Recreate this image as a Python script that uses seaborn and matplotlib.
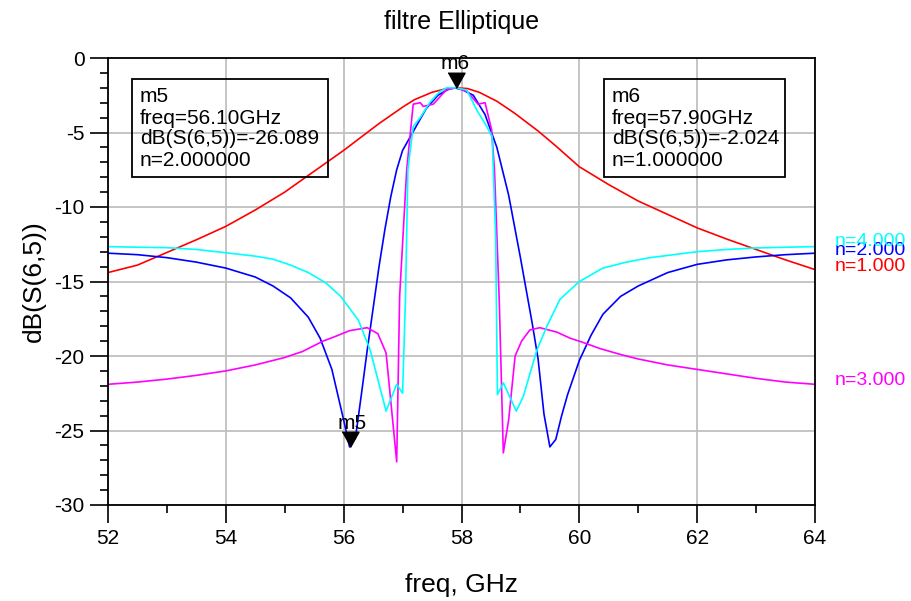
import numpy as np
import pandas as pd
import seaborn as sns
import matplotlib
matplotlib.use("Agg")
import matplotlib.pyplot as plt
from matplotlib.ticker import MultipleLocator
from matplotlib.patches import Rectangle

sns.set_theme(style="white")
plt.rcParams["font.family"] = ["Liberation Sans", "DejaVu Sans"]
plt.rcParams["axes.unicode_minus"] = False

# n=1 (red)
freq_n1 = [52, 52.5, 53, 53.5, 54, 54.5, 55, 55.5, 56, 56.3, 56.6, 57, 57.2, 57.5, 57.7, 57.9,
           58.1, 58.3, 58.6, 58.9, 59.3, 59.6, 60, 60.5, 61, 61.5, 62, 62.5, 63, 63.5, 64]
db_n1 = [-14.4, -13.9, -13.05, -12.2, -11.3, -10.2, -9.0, -7.6, -6.2, -5.3, -4.4, -3.3, -2.8, -2.3, -2.1, -2.0,
         -2.05, -2.3, -2.9, -3.7, -4.9, -5.9, -7.3, -8.5, -9.6, -10.5, -11.4, -12.15, -12.85, -13.55, -14.2]

# n=2 (blue)
freq_n2 = [52, 52.5, 53, 53.5, 54, 54.5, 54.8, 55.1, 55.4, 55.6, 55.8, 56.0, 56.1, 56.2, 56.3, 56.4, 56.5,
           56.6, 56.7, 56.8, 56.9, 57.0, 57.2, 57.4, 57.6, 57.8, 57.9, 58.0, 58.2, 58.4, 58.6, 58.8, 59.0,
           59.1, 59.2, 59.3, 59.4, 59.5, 59.6, 59.7, 59.8, 60.0, 60.2, 60.4, 60.7, 61.0, 61.5, 62.0, 62.5,
           63.0, 63.5, 64]
db_n2 = [-13.1, -13.2, -13.4, -13.7, -14.1, -14.7, -15.3, -16.1, -17.4, -18.8, -20.9, -24.3, -26.1, -25.5,
         -22.6, -19.6, -16.8, -14.0, -11.5, -9.3, -7.5, -6.2, -4.8, -3.4, -2.5, -2.05, -2.02, -2.1, -2.5,
         -3.8, -6.0, -9.2, -13.4, -15.6, -17.8, -20.2, -23.9, -26.1, -25.6, -24.0, -22.6, -20.3, -18.6,
         -17.2, -16.0, -15.3, -14.4, -13.85, -13.55, -13.35, -13.2, -13.1]

# n=3 (magenta)
freq_n3 = [52, 52.5, 53, 53.5, 54, 54.5, 55, 55.3, 55.65, 55.85, 56.1, 56.4, 56.58, 56.72, 56.9, 56.95,
           57.07, 57.18, 57.3, 57.35, 57.52, 57.74, 57.9, 58.1, 58.28, 58.4, 58.51, 58.56, 58.64, 58.71,
           58.8, 58.91, 59.02, 59.16, 59.33, 59.62, 59.84, 60.07, 60.35, 60.7, 61, 61.5, 62, 62.5, 63,
           63.5, 64]
db_n3 = [-21.9, -21.75, -21.55, -21.3, -21.0, -20.6, -20.1, -19.7, -19.0, -18.7, -18.3, -18.1, -18.5, -19.8,
         -27.1, -16.0, -7.5, -3.1, -3.0, -3.25, -3.1, -2.15, -2.0, -2.26, -3.1, -3.0, -4.8, -7.5, -16.2,
         -26.5, -24.3, -20.0, -19.0, -18.25, -18.1, -18.4, -18.8, -19.1, -19.5, -19.9, -20.2, -20.6, -20.9,
         -21.2, -21.5, -21.75, -21.9]

# n=4 (cyan)
freq_n4 = [52, 52.5, 53, 53.5, 54, 54.5, 54.8, 55.1, 55.4, 55.7, 55.95, 56.25, 56.45, 56.72, 56.9, 57.0,
           57.05, 57.09, 57.18, 57.3, 57.46, 57.63, 57.75, 57.9, 58.09, 58.26, 58.43, 58.52, 58.58, 58.61,
           58.71, 58.93, 59.05, 59.28, 59.45, 59.67, 60.0, 60.4, 60.8, 61.2, 61.6, 62.0, 62.5, 63.0, 63.5, 64]
db_n4 = [-12.66, -12.7, -12.73, -12.85, -13.07, -13.3, -13.5, -13.9, -14.4, -15.1, -16.0, -17.6, -19.6,
         -23.7, -21.9, -22.5, -16.0, -7.5, -4.6, -4.0, -3.0, -2.26, -2.0, -2.0, -2.15, -3.5, -4.6, -5.3,
         -12.0, -22.6, -21.8, -23.7, -22.7, -19.6, -18.0, -16.2, -15.0, -14.1, -13.7, -13.4, -13.2, -13.0,
         -12.85, -12.75, -12.7, -12.66]

names = ["n=1.000", "n=2.000", "n=3.000", "n=4.000"]
colors = ["#ff0000", "#0000ff", "#ff00ff", "#00ffff"]

df = pd.concat([
    pd.DataFrame({"freq": freq_n1, "dB": db_n1, "n": names[0]}),
    pd.DataFrame({"freq": freq_n2, "dB": db_n2, "n": names[1]}),
    pd.DataFrame({"freq": freq_n3, "dB": db_n3, "n": names[2]}),
    pd.DataFrame({"freq": freq_n4, "dB": db_n4, "n": names[3]}),
])

fig = plt.figure(figsize=(9.12, 6.01), dpi=100)
ax = fig.add_axes([108 / 912, 1 - 505 / 601, 707 / 912, 447 / 601])

sns.lineplot(data=df, x="freq", y="dB", hue="n", hue_order=names, palette=dict(zip(names, colors)),
             estimator=None, sort=False, linewidth=1.2, legend=False, ax=ax)

ax.set_xlim(52, 64)
ax.set_ylim(-30, 0)
ax.xaxis.set_major_locator(MultipleLocator(2))
ax.xaxis.set_minor_locator(MultipleLocator(1))
ax.yaxis.set_major_locator(MultipleLocator(5))
ax.yaxis.set_minor_locator(MultipleLocator(1))
ax.tick_params(which="major", direction="out", length=13, width=1.2, color="black",
               labelsize=15, labelcolor="black", bottom=True, left=True, pad=4)
ax.tick_params(which="minor", direction="out", length=6, width=1.2, color="black",
               bottom=True, left=True)
ax.grid(True, which="major", color="#c0c0c0", linewidth=1.3)
for s in ax.spines.values():
    s.set_color("black")
    s.set_linewidth(1.3)

ax.set_title("filtre Elliptique", fontsize=18, pad=21, color="black")
ax.set_xlabel("freq, GHz", fontsize=19, labelpad=18, color="black")
ax.set_ylabel("dB(S(6,5))", fontsize=19, labelpad=6, color="black")

# trace labels at the right end
label_shift = [0.2, 0.15, 0.25, 0.35]
for name, col, vals, sh in zip(names, colors, [db_n1, db_n2, db_n3, db_n4], label_shift):
    ax.text(64.34, vals[-1] + sh, name, color=col, fontsize=14, va="center", ha="left", clip_on=False)

# markers
tri = [(-1, 1.8), (1, 1.8), (0, 0)]
ax.plot([56.1], [-26.089], marker=tri, markersize=22, color="black", linestyle="none", clip_on=False, zorder=5)
ax.plot([57.9], [-2.024], marker=tri, markersize=22, color="black", linestyle="none", clip_on=False, zorder=5)
ax.annotate("m5", xy=(56.1, -26.089), xytext=(2, 17), textcoords="offset points",
            ha="center", va="center", fontsize=15, color="black")
ax.annotate("m6", xy=(57.9, -2.024), xytext=(0, 18), textcoords="offset points",
            ha="center", va="center", fontsize=15, color="black", annotation_clip=False)

# marker readout boxes
boxes = [
    (132, 79, 196, 98, ["m5", "freq=56.10GHz", "dB(S(6,5))=-26.089", "n=2.000000"]),
    (604, 79, 181, 98, ["m6", "freq=57.90GHz", "dB(S(6,5))=-2.024", "n=1.000000"]),
]
for x0, y0, w, h, lines in boxes:
    fig.patches.append(Rectangle((x0 / 912, 1 - (y0 + h) / 601), w / 912, h / 601,
                                 transform=fig.transFigure, fill=False, edgecolor="black",
                                 linewidth=1.3, zorder=6))
    for i, line in enumerate(lines):
        fig.text((x0 + 8) / 912, 1 - (y0 + 18 + 21 * i) / 601, line, fontsize=15,
                 ha="left", va="center", color="black", zorder=7)

fig.savefig("out.png", dpi=100, facecolor="white")
